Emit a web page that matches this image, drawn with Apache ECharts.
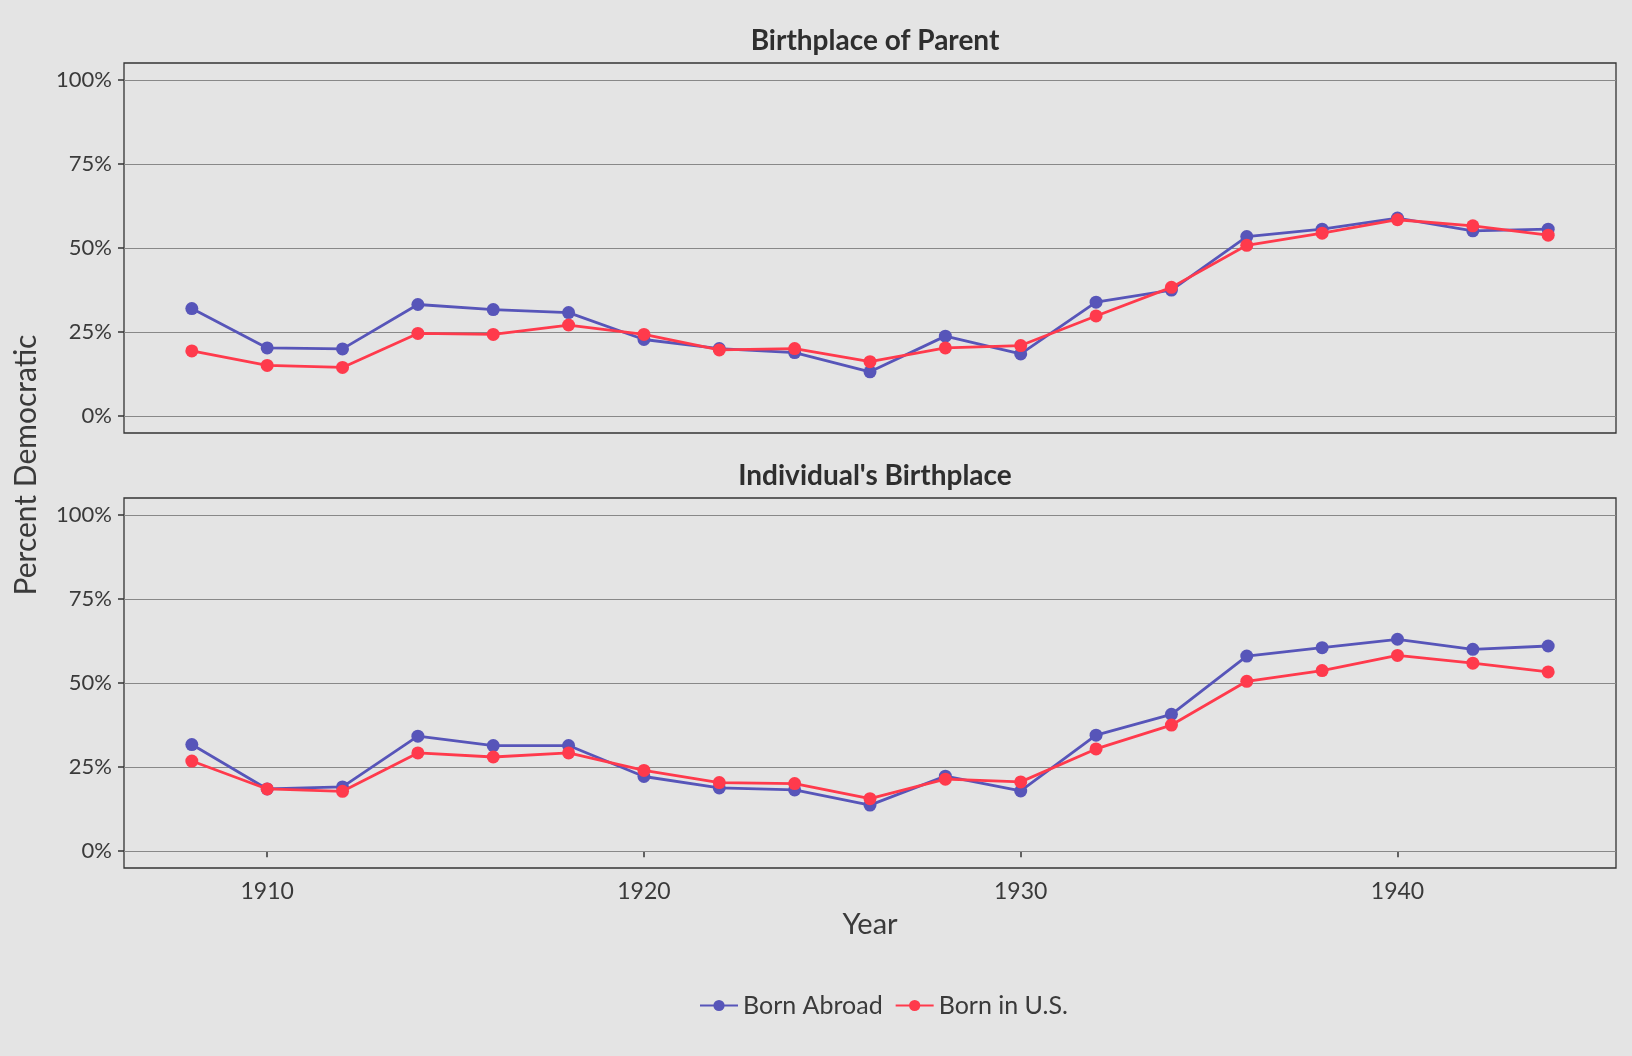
<!DOCTYPE html>
<html>
<head>
<meta charset="utf-8">
<title>Percent Democratic by birthplace</title>
<script src="https://cdn.jsdelivr.net/npm/echarts@6/dist/echarts.min.js"></script>
<style>
  html, body { margin: 0; padding: 0; background: #e4e4e4; }
  #chart { width: 1632px; height: 1056px; }
</style>
</head>
<body>
<div id="chart"></div>
<script>
// election years
const years = [1908, 1910, 1912, 1914, 1916, 1918, 1920, 1922, 1924, 1926,
  1928, 1930, 1932, 1934, 1936, 1938, 1940, 1942, 1944];

// panel 1: birthplace of parent
const parentAbroad = [32.0, 20.3, 20.0, 33.2, 31.7, 30.8, 22.8, 20.1, 18.9, 13.2,
  23.8, 18.5, 33.9, 37.5, 53.4, 55.6, 58.9, 55.1, 55.6];
const parentUS = [19.4, 15.1, 14.5, 24.6, 24.3, 27.1, 24.3, 19.7, 20.1, 16.2,
  20.3, 21.0, 29.8, 38.3, 50.8, 54.4, 58.4, 56.6, 53.8];

// panel 2: individual's birthplace
const individualAbroad = [31.7, 18.5, 19.1, 34.2, 31.4, 31.4, 22.2, 18.8, 18.2, 13.7,
  22.3, 17.9, 34.5, 40.7, 58.0, 60.5, 63.0, 60.0, 61.0];
const individualUS = [26.8, 18.5, 17.8, 29.2, 28.0, 29.2, 24.0, 20.4, 20.1, 15.6,
  21.4, 20.6, 30.4, 37.5, 50.5, 53.7, 58.2, 55.9, 53.3];

const panelTitles = ['Birthplace of Parent', "Individual's Birthplace"];
const seriesNames = ['Born Abroad', 'Born in U.S.'];
const yTicks = [0, 25, 50, 75, 100];
const xTicks = [1910, 1920, 1930, 1940];

const colors = ['#5755b9', '#ff3a4c'];
const font = 'Lato, "Open Sans", sans-serif';
const textColor = '#3a3a3a';

function pairs(vals) {
  return years.map((y, i) => [y, vals[i]]);
}

const grids = [
  { left: 124, right: 16, top: 63, height: 370 },
  { left: 124, right: 16, top: 498, height: 370 }
].map(g => Object.assign(g, {
  show: true, borderColor: '#333', borderWidth: 1.3, backgroundColor: 'transparent'
}));

const xAxes = [0, 1].map(i => ({
  type: 'value', gridIndex: i, min: 1906.2, max: 1945.8,
  splitLine: { show: false },
  axisLine: { show: false },
  axisTick: { show: i === 1, customValues: xTicks, length: 6, lineStyle: { color: '#333', width: 1.5 } },
  axisLabel: {
    show: i === 1, customValues: xTicks, color: textColor, fontFamily: font,
    fontSize: 23, margin: 12, formatter: v => String(v)
  },
  name: i === 1 ? 'Year' : '',
  nameLocation: 'middle', nameGap: 42,
  nameTextStyle: { color: textColor, fontFamily: font, fontSize: 29 }
}));

const yAxes = [0, 1].map(i => ({
  type: 'value', gridIndex: i, min: -5, max: 105,
  axisLine: { show: false },
  axisTick: { show: true, customValues: yTicks, length: 6, lineStyle: { color: '#333', width: 1.5 } },
  axisLabel: {
    customValues: yTicks, color: textColor, fontFamily: font, fontSize: 22, margin: 12,
    formatter: v => v + '%'
  },
  splitLine: { show: false }
}));

// horizontal grid lines at the tick values
const gridLines = {
  silent: true, symbol: 'none', label: { show: false },
  lineStyle: { color: '#888', width: 1.2, type: 'solid' },
  data: yTicks.map(v => ({ yAxis: v }))
};

const panelData = [[parentAbroad, parentUS], [individualAbroad, individualUS]];
const series = [];
panelData.forEach((pair, p) => {
  pair.forEach((vals, s) => {
    series.push({
      name: seriesNames[s], type: 'line',
      xAxisIndex: p, yAxisIndex: p,
      data: pairs(vals),
      symbol: 'circle', symbolSize: 13,
      color: colors[s],
      lineStyle: { width: 2.8 },
      z: 3 + s,
      markLine: s === 0 ? Object.assign({ z: 1 }, gridLines) : undefined
    });
  });
});

const chart = echarts.init(document.getElementById('chart'));
chart.setOption({
  backgroundColor: '#e4e4e4',
  animation: false,
  title: panelTitles.map((t, i) => ({
    text: t, left: 870, textAlign: 'center', top: i === 0 ? 22 : 457,
    textStyle: { fontFamily: font, fontSize: 28, fontWeight: 'bold', color: '#2e2e2e' }
  })),
  legend: {
    data: seriesNames, left: 694, top: 988, itemWidth: 38, itemHeight: 14, itemGap: 12,
    textStyle: { fontFamily: font, fontSize: 25, color: textColor }
  },
  graphic: [{
    type: 'text', x: 26, y: 465, rotation: Math.PI / 2,
    style: {
      text: 'Percent Democratic', fill: textColor, font: '30px ' + font,
      textAlign: 'center', textVerticalAlign: 'middle'
    }
  }],
  grid: grids,
  xAxis: xAxes,
  yAxis: yAxes,
  series: series
});
</script>
</body>
</html>
